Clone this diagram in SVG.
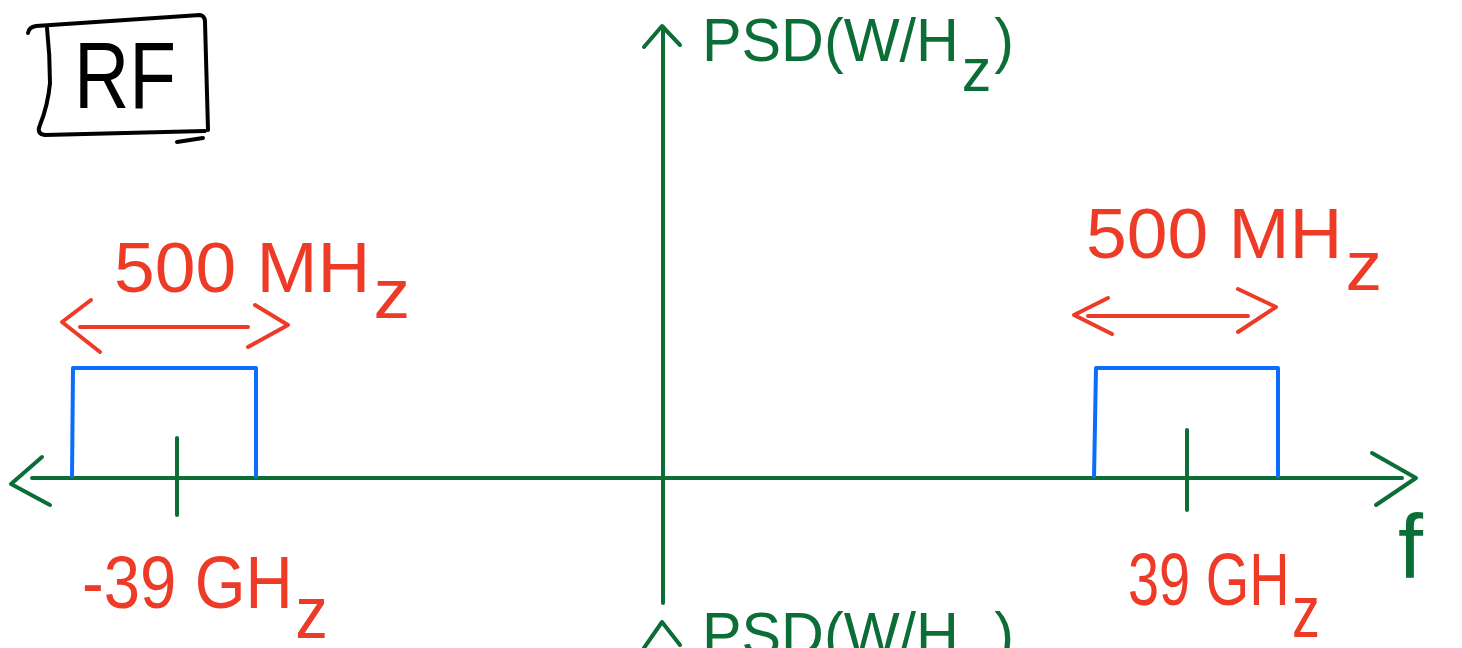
<svg xmlns="http://www.w3.org/2000/svg" width="1462" height="648" viewBox="0 0 1462 648">
<style>
.g{stroke:#0b6e36;stroke-width:4;fill:none;stroke-linecap:round;stroke-linejoin:round}
.r{stroke:#ee3b28;stroke-width:4;fill:none;stroke-linecap:round;stroke-linejoin:round}
.b{stroke:#0a6dfc;stroke-width:4;fill:none;stroke-linejoin:round}
.k{stroke:#000;stroke-width:4;fill:none;stroke-linecap:round;stroke-linejoin:round}
.tg{fill:#0b6e36;font-family:"Liberation Sans",Arial,sans-serif}
.tr{fill:#ee3b28;font-family:"Liberation Sans",Arial,sans-serif}
.tk{fill:#000;font-family:"Liberation Sans",Arial,sans-serif}
</style>
<rect width="1462" height="648" fill="#fff"/>
<g id="rf-label">
<path class="k" d="M28 33 Q29 27 36 26 L200 15 Q205 16 205 22 L208 130"/>
<path class="k" d="M47 28 Q50 55 50 83 Q48 105 40 125 Q36 134 45 135 L205 131"/>
<path class="k" d="M177 142 L203 138"/>
<text class="tk" x="74" y="108" font-size="94" textLength="102" lengthAdjust="spacingAndGlyphs">RF</text>
</g>
<g id="connectors">
<path class="g" d="M663 603 L663 27"/>
<path class="g" d="M644 47 L662 26 L680 45"/>
<path class="g" d="M32 478 L1402 478"/>
<path class="g" d="M42 457 L11 484 L50 505"/>
<path class="g" d="M1372 453 L1416 478 L1376 505"/>
<path class="g" d="M177 438 L177 515"/>
<path class="g" d="M1187 430 L1187 510"/>
<path class="g" d="M644 648 L662 622 L680 645"/>
<path class="r" d="M80 327 L248 327"/>
<path class="r" d="M91 300 L62 322 L100 352"/>
<path class="r" d="M255 305 L288 325 L248 347"/>
<path class="r" d="M1088 316 L1248 316"/>
<path class="r" d="M1108 298 L1074 315 L1112 334"/>
<path class="r" d="M1238 289 L1276 307 L1238 332"/>
</g>
<g id="band-left">
<path class="b" d="M72 478 L73 368 L256 368 L256 478"/>
</g>
<g id="band-right">
<path class="b" d="M1094 478 L1096 368 L1278 368 L1278 478"/>
</g>
<g id="psd-top">
<text class="tg" x="702" y="61" font-size="62" textLength="312" lengthAdjust="spacingAndGlyphs">PSD(W/H<tspan dx="3" dy="30">z</tspan><tspan dx="3" dy="-30">)</tspan></text>
</g>
<g id="psd-bottom">
<text class="tg" x="702" y="655" font-size="62" textLength="312" lengthAdjust="spacingAndGlyphs">PSD(W/H<tspan dx="3" dy="30">z</tspan><tspan dx="3" dy="-30">)</tspan></text>
</g>
<g id="bw-left">
<text class="tr" x="114" y="292" font-size="70" textLength="296" lengthAdjust="spacingAndGlyphs">500 MH<tspan dx="3" dy="26">z</tspan></text>
</g>
<g id="bw-right">
<text class="tr" x="1086" y="258" font-size="70" textLength="296" lengthAdjust="spacingAndGlyphs">500 MH<tspan dx="3" dy="32">z</tspan></text>
</g>
<g id="freq-left">
<text class="tr" x="82" y="608" font-size="74" textLength="246" lengthAdjust="spacingAndGlyphs">-39 GH<tspan dx="3" dy="30">z</tspan></text>
</g>
<g id="freq-right">
<text class="tr" x="1128" y="605" font-size="74" textLength="192" lengthAdjust="spacingAndGlyphs">39 GH<tspan dx="3" dy="32">z</tspan></text>
</g>
<g id="f-label">
<text class="tg" x="1398" y="578" font-size="90">f</text>
</g>
</svg>
